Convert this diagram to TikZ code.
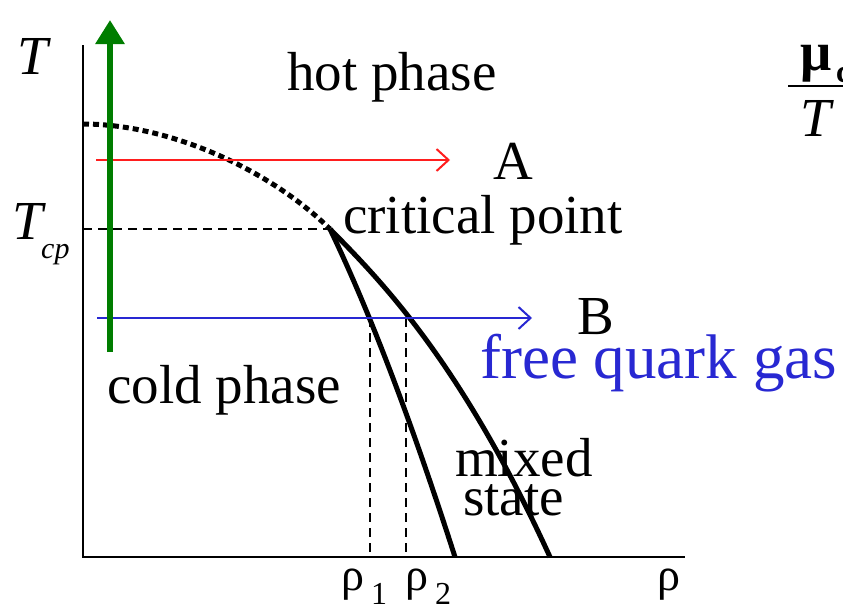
\documentclass[tikz,border=0pt]{standalone}
\usepackage{fontspec}
\setmainfont{Liberation Serif}
\usetikzlibrary{arrows.meta}
\definecolor{qblue}{RGB}{40,40,210}
\definecolor{qred}{RGB}{255,30,30}
\definecolor{qgreen}{RGB}{0,125,0}
\tikzset{
  lbl/.style={inner sep=0pt, font=\fontsize{55}{60}\selectfont},
  axisline/.style={line width=2pt, black},
  phaseline/.style={line width=5pt, black},
  guide/.style={line width=1.5pt, dash pattern=on 9pt off 6pt},
  path/.style={line width=2pt, -{Straight Barb[length=12pt,width=22pt,line width=2pt]}}
}
\begin{document}
\begin{tikzpicture}[x=1pt,y=-1pt]
\useasboundingbox (0,0) rectangle (843,613);
% axes
\coordinate (o) at (83,557);
\coordinate (ytop) at (83,45);
\coordinate (xend) at (685,557);
\draw[axisline] (ytop) -- (o) -- (xend);
% key points
\coordinate (cp) at (330,229);
\coordinate (tc) at (83,124);
\coordinate (tcp) at (83,229);
\coordinate (l1) at (455,557);
\coordinate (r1) at (550,557);
\coordinate (p1t) at (370,318);
\coordinate (p1b) at (370,557);
\coordinate (p2t) at (406,318);
\coordinate (p2b) at (406,557);
% dashed guides
\draw[guide] (tcp) -- (cp);
\draw[guide] (p1t) -- (p1b);
\draw[guide] (p2t) -- (p2b);
% dotted crossover line
\draw[line width=5pt, dash pattern=on 6pt off 4pt] (tc) .. controls (170,124) and (270,170) .. (cp);
% phase boundaries
\draw[phaseline] (cp) .. controls (352,275) and (395,370) .. (l1);
\draw[phaseline] (cp) .. controls (380,280) and (460,360) .. (r1);
% paths A and B
\coordinate (as) at (96,160);
\coordinate (ae) at (450,160);
\coordinate (bs) at (97,318);
\coordinate (be) at (532,318);
\draw[path, qred] (as) -- (ae);
\draw[path, qblue] (bs) -- (be);
% green arrow
\coordinate (gs) at (110,352);
\coordinate (ge) at (110,20);
\draw[line width=6pt, qgreen, -{Triangle[length=24pt,width=28pt]}] (gs) -- (ge);
% labels
\node[lbl, anchor=base west] (hot) at (287,90) {hot phase};
\node[lbl, anchor=base west] (A) at (493,179) {A};
\node[lbl, anchor=base west] (crit) at (343,233) {critical point};
\node[lbl, anchor=base west] (B) at (577,334) {B};
\node[inner sep=0pt, anchor=base west, text=qblue, font=\fontsize{63}{68}\selectfont] (fqg) at (480,378) {free quark gas};
\node[lbl, anchor=base west] (cold) at (107,403) {cold phase};
\node[lbl, anchor=base west] (mixed) at (455,476) {mixed};
\node[lbl, anchor=base west] (state) at (463,515) {state};
\node[lbl, anchor=base west] (T) at (17,74) {\itshape T};
\node[lbl, anchor=base west] (Tcp) at (12,239) {\itshape T};
\node[inner sep=0pt, anchor=base west, font=\fontsize{30}{34}\selectfont\itshape] (cpsub) at (41,258) {cp};
\node[inner sep=0pt, anchor=base west, font=\fontsize{46}{50}\selectfont] (rho1) at (341,590) {ρ};
\node[inner sep=0pt, anchor=base west, font=\fontsize{32}{36}\selectfont] (sub1) at (371,604) {1};
\node[inner sep=0pt, anchor=base west, font=\fontsize{46}{50}\selectfont] (rho2) at (405,590) {ρ};
\node[inner sep=0pt, anchor=base west, font=\fontsize{32}{36}\selectfont] (sub2) at (435,604) {2};
\node[inner sep=0pt, anchor=base west, font=\fontsize{46}{50}\selectfont] (rho) at (657,590) {ρ};
% mu_c / T
\node[inner sep=0pt, anchor=base west, font=\fontsize{55}{60}\selectfont\bfseries] (mu) at (800,70) {μ};
\node[inner sep=0pt, anchor=base west, font=\fontsize{32}{36}\selectfont\bfseries] (muc) at (836,82) {c};
\coordinate (fb1) at (788,86);
\coordinate (fb2) at (850,86);
\draw[line width=2.5pt] (fb1) -- (fb2);
\node[lbl, anchor=base west] (Tden) at (800,136) {\itshape T};
\end{tikzpicture}
\end{document}
